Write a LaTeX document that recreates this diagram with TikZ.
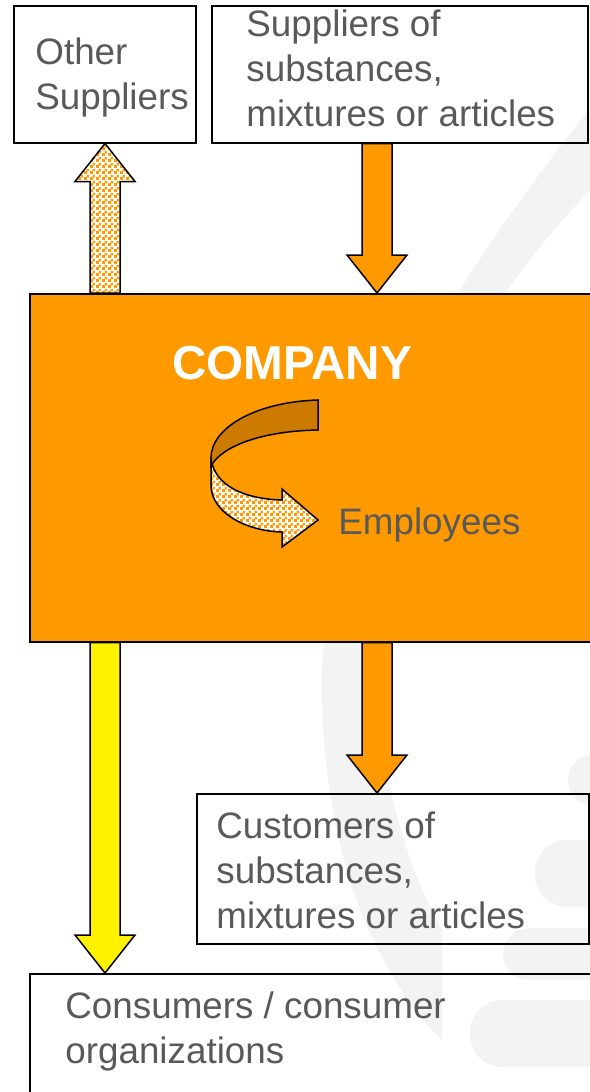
\documentclass[tikz,border=0pt]{standalone}
\usepackage{fontspec}
\setmainfont{Liberation Sans}
\usetikzlibrary{calc,patterns.meta}
\definecolor{boxorange}{RGB}{255,153,0}
\definecolor{bandbrown}{RGB}{204,122,0}
\definecolor{txtgrey}{RGB}{89,89,89}
\definecolor{wmgrey}{RGB}{243,243,243}
\tikzdeclarepattern{
	name=finechecks, type=uncolored,
	bottom left={(0pt,0pt)}, top right={(3pt,3pt)}, tile size={(3pt,3pt)},
	code={\fill (0pt,0pt) rectangle (1.6pt,1.6pt); \fill (1.5pt,1.5pt) rectangle (3pt,3pt);}
}
\tikzset{
	box/.style={draw=black, line width=0.75pt, anchor=north west, inner sep=0pt},
	txt/.style={anchor=north west, inner sep=0pt, align=left, text=txtgrey, font=\fontsize{18.4}{22.5}\selectfont},
	blockarr/.style={draw=black, line width=0.75pt, line join=miter},
	checks/.style={preaction={fill=white}, pattern=finechecks, pattern color=boxorange},
}
\newcommand{\fatarrow}[3][]{%
	\draw[blockarr,#1] ($(#2)+(-7.5pt,0)$) -- ($(#3)!19pt!(#2)+(-7.5pt,0)$) -- ($(#3)!19pt!(#2)+(-15pt,0)$) -- (#3)
		-- ($(#3)!19pt!(#2)+(15pt,0)$) -- ($(#3)!19pt!(#2)+(7.5pt,0)$) -- ($(#2)+(7.5pt,0)$) -- cycle;}
\begin{document}
\begin{tikzpicture}[x=0.5pt, y=-0.5pt]
	\useasboundingbox (0,0) rectangle (589,1092);
	\fill[wmgrey] (600,95) .. controls (470,260) and (315,480) .. (322,700) .. controls (326,880) and (390,990) .. (442,1040)
		-- (442,930) .. controls (370,800) and (350,600) .. (420,440) .. controls (470,330) and (540,240) .. (600,180) -- cycle;
	\fill[wmgrey, rounded corners=12pt] (568,755) rectangle (640,805);
	\fill[wmgrey, rounded corners=16pt] (535,840) rectangle (640,907);
	\fill[wmgrey, rounded corners=13pt] (503,928) rectangle (640,980);
	\fill[wmgrey, rounded corners=16pt] (470,1000) rectangle (640,1067);

	\node[box, minimum width=91pt, minimum height=68.5pt] (other) at (13,5) {};
	\node[box, minimum width=188pt, minimum height=68.5pt] (sup) at (211,5) {};
	\node[box, fill=boxorange, minimum width=300pt, minimum height=174pt] (company) at (29,293) {};
	\node[box, minimum width=196pt, minimum height=75pt] (cust) at (196,793) {};
	\node[box, minimum width=300pt, minimum height=75pt] (cons) at (29,973) {};

	\node[txt] (othertxt) at ([xshift=11pt,yshift=-16pt]other.north west) {Other\\Suppliers};
	\node[txt] (suptxt) at ([xshift=17.5pt,yshift=-2pt]sup.north west) {Suppliers of\\substances,\\mixtures or articles};
	\node[anchor=north, inner sep=0pt, text=white, font=\bfseries\fontsize{23.8}{28}\selectfont] (comptxt)
		at ([xshift=131.5pt,yshift=-26.5pt]company.north west) {COMPANY};
	\node[txt] (emptxt) at ([xshift=154.5pt,yshift=-107pt]company.north west) {Employees};
	\node[txt] (custtxt) at ([xshift=10pt,yshift=-9pt]cust.north west) {Customers of\\substances,\\mixtures or articles};
	\node[txt] (constxt) at ([xshift=18pt,yshift=-9pt]cons.north west) {Consumers / consumer\\organizations};

	\coordinate (o1) at ([xshift=46pt]other.south west);
	\coordinate (o2) at (o1 |- company.north);
	\coordinate (s1) at ([xshift=83pt]sup.south west);
	\coordinate (s2) at (s1 |- company.north);
	\coordinate (c1) at ([xshift=38pt]company.south west);
	\coordinate (c2) at (c1 |- cons.north);
	\coordinate (c3) at ([xshift=174pt]company.south west);
	\coordinate (c4) at (c3 |- cust.north);
	\fatarrow[checks]{o2}{o1}
	\fatarrow[fill=boxorange]{s1}{s2}
	\fatarrow[fill=yellow]{c1}{c2}
	\fatarrow[fill=boxorange]{c3}{c4}

	\draw[blockarr, checks] (211,458) -- (211,485) .. controls (211,512) and (245,531) .. (282,532) -- (282,547) -- (318,520)
		-- (282,489) -- (282,500) .. controls (245,499) and (214,486) .. (211,458) -- cycle;
	\draw[blockarr, fill=bandbrown] (318,400) .. controls (255,402) and (211,428) .. (211,458) -- (211,466)
		.. controls (222,446) and (262,431) .. (318,430) -- cycle;
\end{tikzpicture}
\end{document}
